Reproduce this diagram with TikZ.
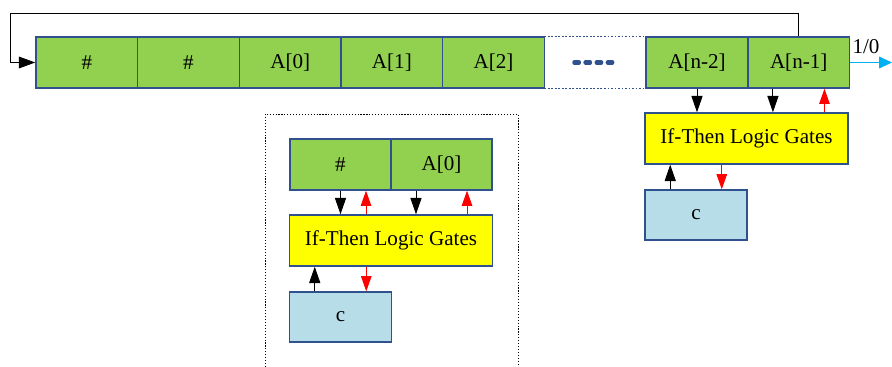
\documentclass[tikz,border=0pt]{standalone}
\usepackage{fontspec}
\setmainfont{Liberation Serif}
\usetikzlibrary{calc,arrows.meta}
\definecolor{cellgreen}{HTML}{92D050}
\definecolor{edge}{HTML}{2F528F}
\definecolor{gate}{HTML}{FFFF00}
\definecolor{reg}{HTML}{B7DEE8}
\definecolor{outc}{HTML}{00B0F0}
\tikzset{
  txt/.style={font=\fontsize{18}{21}\selectfont},
  cell/.style={txt, draw=edge, fill=cellgreen, line width=1.2pt, minimum width=3.05cm, minimum height=1.53cm, inner sep=0pt},
  gap/.style={minimum width=3.05cm, minimum height=1.53cm, inner sep=0pt},
  gatebox/.style={txt, draw=edge, fill=gate, line width=1.2pt, minimum width=6.08cm, minimum height=1.53cm, inner sep=0pt},
  regbox/.style={txt, draw=edge, fill=reg, line width=1.2pt, minimum width=3.05cm, minimum height=1.5cm, inner sep=0pt},
  blk/.style={draw=black, line width=0.8pt, -{Triangle[length=14pt,width=9.5pt]}},
  redarr/.style={red, line width=0.8pt, -{Triangle[length=13pt,width=9pt]}},
  loopback/.style={draw=black, line width=0.8pt, -{Triangle[length=14pt,width=10pt]}},
  outarr/.style={outc, line width=1pt, -{Triangle[length=11pt,width=10pt]}},
  frame/.style={draw=black, line width=0.8pt, dash pattern=on 1pt off 1.5pt}
}
\begin{document}
\begin{tikzpicture}[x=0.03cm, y=-0.03cm]
\useasboundingbox (0,0) rectangle (892,367);

\node[cell] (h1) at (86.8,62.5) {\#};
\node[cell] (h2) at (188.5,62.5) {\#};
\node[cell] (a0) at (290.2,62.5) {A[0]};
\node[cell] (a1) at (391.9,62.5) {A[1]};
\node[cell] (a2) at (493.6,62.5) {A[2]};
\node[gap] (dots) at (595.3,62.5) {};
\node[cell] (an2) at (697,62.5) {A[n-2]};
\node[cell] (an1) at (798.7,62.5) {A[n-1]};
\draw[edge, line width=1.2pt, dash pattern=on 1.5pt off 1.5pt] (dots.north west) -- (dots.north east) (dots.south west) -- (dots.south east);
\draw[edge, line width=3.5pt, line cap=round, dash pattern=on 4pt off 5.5pt] ($(dots.center)+(-21,0)$) -- ($(dots.center)+(17.5,0)$);

\coordinate (fb) at (10,13);
\draw[loopback] (an1.north) |- (fb) |- (h1.west);
\coordinate (out) at (892,62.5);
\draw[outarr] (an1.east) -- (out);
\node[txt] (outlbl) at (866,47) {1/0};

\node[gatebox] (gR) at (746.5,138.5) {If-Then Logic Gates};
\node[regbox] (cR) at (696,215) {c};
\coordinate (p1) at ($(an1.south west)!.25!(an1.south east)$);
\coordinate (p2) at ($(an1.south west)!.75!(an1.south east)$);
\coordinate (p3) at ($(cR.north west)!.25!(cR.north east)$);
\coordinate (p4) at ($(cR.north west)!.75!(cR.north east)$);
\draw[blk] (an2.south) -- (an2.south |- gR.north);
\draw[blk] (p1) -- (p1 |- gR.north);
\draw[redarr] (p2 |- gR.north) -- (p2);
\draw[blk] (p3) -- (p3 |- gR.south);
\draw[redarr] (p4 |- gR.south) -- (p4);

\draw[frame] (265,370) -- (265,114) -- (518,114) -- (518,370);
\node[cell, minimum width=3.02cm] (ih) at (340.5,164.5) {\#};
\node[cell, minimum width=3.02cm] (ia) at (441.5,164.5) {A[0]};
\node[gatebox] (gL) at (391,240.5) {If-Then Logic Gates};
\node[regbox] (cL) at (340.5,317) {c};
\coordinate (q1) at ($(ih.south west)!.75!(ih.south east)$);
\coordinate (q2) at ($(ia.south west)!.25!(ia.south east)$);
\coordinate (q3) at ($(ia.south west)!.75!(ia.south east)$);
\coordinate (q4) at ($(cL.north west)!.25!(cL.north east)$);
\coordinate (q5) at ($(cL.north west)!.75!(cL.north east)$);
\draw[blk] (ih.south) -- (ih.south |- gL.north);
\draw[redarr] (q1 |- gL.north) -- (q1);
\draw[blk] (q2) -- (q2 |- gL.north);
\draw[redarr] (q3 |- gL.north) -- (q3);
\draw[blk] (q4) -- (q4 |- gL.south);
\draw[redarr] (q5 |- gL.south) -- (q5);
\end{tikzpicture}
\end{document}
